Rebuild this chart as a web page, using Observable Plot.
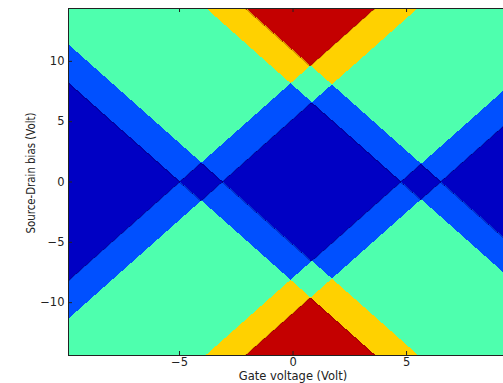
<!DOCTYPE html>
<html><head><meta charset="utf-8">
<script src="https://cdn.jsdelivr.net/npm/d3@7"></script>
<script src="https://cdn.jsdelivr.net/npm/@observablehq/plot@0.6"></script>
<style>html,body{margin:0;padding:0;background:#fff;overflow:hidden}</style>
</head><body><div id="chart"></div>
<script>
// Gate voltages (V) where the diamond edges cross zero bias
const transitions = [-5.0, -3.12, 4.74, 6.5];
// slope dVsd/dVg of the diamond edges
const edgeSlope = 1.672;
// level index -> colour (jet-like contour levels)
const levels = [0, 1, 2, 3, 4];
const levelColors = ["#0000c4", "#0050ff", "#4effae", "#ffd100", "#c40000"];
const xTicks = [-5, 0, 5];
const yTicks = [-10, -5, 0, 5, 10];
const xDomain = [-9.89, 9.27];      // visible gate range (figure is cut at the right)
const xFullRange = [-9.89, 9.89];   // full axis range (for centring the label)
const yDomain = [-14.38, 14.38];

const W = 503, H = 383, mT = 8, mB = 28, mL = 68, mR = 0;
const plotW = W - mL - mR, plotH = H - mT - mB;
const font = "DejaVu Sans, sans-serif";
const fmt = d => d < 0 ? "\u2212" + Math.abs(d) : String(d);

// number of transitions inside the bias window for (Vg, Vsd)
function level(vg, vsd) {
  const a = vg + vsd / edgeSlope, b = vg - vsd / edgeSlope;
  const lo = Math.min(a, b), hi = Math.max(a, b);
  let n = 0;
  for (const t of transitions) if (t > lo && t < hi) n++;
  return n;
}

const bounds = {x1: xDomain[0], x2: xDomain[1], y1: yDomain[0], y2: yDomain[1]};

const chart = Plot.plot({
  width: W, height: H,
  marginTop: mT, marginBottom: mB, marginLeft: mL, marginRight: mR,
  style: {fontFamily: font, fontSize: "11.5px", background: "white"},
  x: {domain: xDomain},
  y: {domain: yDomain},
  color: {type: "ordinal", domain: levels, range: levelColors},
  marks: [
    Plot.raster({fill: level, ...bounds, pixelSize: 1, imageRendering: "pixelated"}),
    Plot.contour({value: level, ...bounds, pixelSize: 1, thresholds: [0.5], fill: "none", stroke: "#00007a", strokeWidth: 0.8, smooth: false}),
    Plot.contour({value: level, ...bounds, pixelSize: 1, thresholds: [3.5], fill: "none", stroke: "#8a0a00", strokeWidth: 0.7, smooth: false}),
    Plot.frame({anchor: "top", stroke: "#222"}),
    Plot.frame({anchor: "left", stroke: "#222"}),
    Plot.frame({anchor: "bottom", stroke: "#222"}),
    Plot.ruleX(xTicks, {x: d => d, insetTop: plotH - 4, stroke: "#222"}),
    Plot.ruleX(xTicks, {x: d => d, insetBottom: plotH - 4, stroke: "#222"}),
    Plot.ruleY(yTicks, {y: d => d, insetRight: plotW - 4, stroke: "#222"}),
    Plot.axisX(xTicks, {anchor: "bottom", tickSize: 0, tickPadding: 2, tickFormat: fmt, label: null, fontSize: 11.5, fill: "#222"}),
    Plot.axisY(yTicks, {anchor: "left", tickSize: 0, tickPadding: 4, tickFormat: fmt, label: null, fontSize: 11.5, fill: "#222"}),
    Plot.text(["Gate voltage (Volt)"], {x: d3.mean(xFullRange), frameAnchor: "bottom", dy: 20.5, lineAnchor: "middle", textAnchor: "middle", fontSize: 11.5, fill: "#222"}),
    Plot.text(["Source-Drain bias (Volt)"], {frameAnchor: "left", dx: -37, dy: -9, rotate: -90, textAnchor: "middle", lineAnchor: "middle", fontSize: 11.5, fill: "#222"})
  ]
});
document.getElementById("chart").appendChild(chart);
// the reference's vertical label is slightly compressed lengthwise
chart.querySelectorAll("text").forEach(t => {
  if (t.textContent === "Source-Drain bias (Volt)") {
    t.setAttribute("textLength", "121");
    t.setAttribute("lengthAdjust", "spacingAndGlyphs");
  }
});
</script>
</body></html>
